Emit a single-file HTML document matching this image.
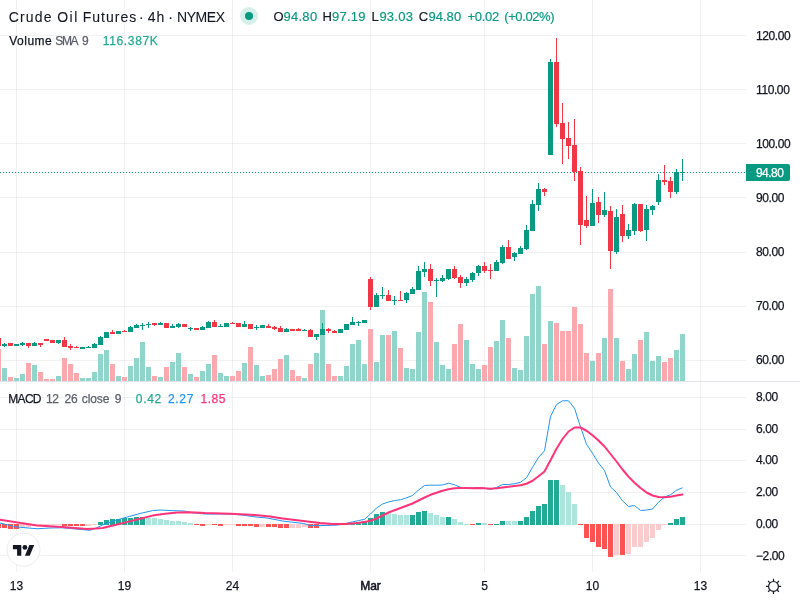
<!DOCTYPE html>
<html><head><meta charset="utf-8"><title>Crude Oil Futures</title>
<style>
html,body{margin:0;padding:0;background:#fff;}
body{width:800px;height:600px;position:relative;overflow:hidden;font-family:"Liberation Sans",sans-serif;}
#txt{position:absolute;left:0;top:0;width:800px;height:600px;will-change:transform;}
.t{position:absolute;white-space:nowrap;display:block;-webkit-text-stroke:0.25px currentColor;}
.t.c{text-align:center;color:#131722}
</style></head><body>
<svg width="800" height="600" viewBox="0 0 800 600" style="position:absolute;left:0;top:0">
<g fill="rgba(40,44,62,0.065)" shape-rendering="crispEdges">
<rect x="16" y="0" width="1" height="381"/>
<rect x="16" y="382" width="1" height="190"/>
<rect x="124" y="0" width="1" height="381"/>
<rect x="124" y="382" width="1" height="190"/>
<rect x="232" y="0" width="1" height="381"/>
<rect x="232" y="382" width="1" height="190"/>
<rect x="370" y="0" width="1" height="381"/>
<rect x="370" y="382" width="1" height="190"/>
<rect x="484" y="0" width="1" height="381"/>
<rect x="484" y="382" width="1" height="190"/>
<rect x="592" y="0" width="1" height="381"/>
<rect x="592" y="382" width="1" height="190"/>
<rect x="700" y="0" width="1" height="381"/>
<rect x="700" y="382" width="1" height="190"/>
<rect x="0" y="35" width="746" height="1"/>
<rect x="0" y="89" width="746" height="1"/>
<rect x="0" y="143" width="746" height="1"/>
<rect x="0" y="197" width="746" height="1"/>
<rect x="0" y="252" width="746" height="1"/>
<rect x="0" y="306" width="746" height="1"/>
<rect x="0" y="360" width="746" height="1"/>
<rect x="0" y="397" width="746" height="1"/>
<rect x="0" y="429" width="746" height="1"/>
<rect x="0" y="460" width="746" height="1"/>
<rect x="0" y="492" width="746" height="1"/>
<rect x="0" y="524" width="746" height="1"/>
<rect x="0" y="555" width="746" height="1"/>
</g>
<g shape-rendering="crispEdges">
<rect x="-4" y="349" width="5" height="32" fill="#fba8af"/>
<rect x="2" y="368" width="5" height="13" fill="#90d5c9"/>
<rect x="8" y="377" width="5" height="4" fill="#fba8af"/>
<rect x="14" y="378" width="5" height="3" fill="#90d5c9"/>
<rect x="20" y="374" width="5" height="7" fill="#90d5c9"/>
<rect x="26" y="363" width="5" height="18" fill="#fba8af"/>
<rect x="32" y="365" width="5" height="16" fill="#90d5c9"/>
<rect x="38" y="372" width="5" height="9" fill="#fba8af"/>
<rect x="44" y="379" width="5" height="2" fill="#fba8af"/>
<rect x="50" y="379" width="5" height="2" fill="#fba8af"/>
<rect x="56" y="376" width="5" height="5" fill="#90d5c9"/>
<rect x="62" y="358" width="5" height="23" fill="#fba8af"/>
<rect x="68" y="364" width="5" height="17" fill="#fba8af"/>
<rect x="74" y="373" width="5" height="8" fill="#fba8af"/>
<rect x="80" y="378" width="5" height="3" fill="#90d5c9"/>
<rect x="86" y="378" width="5" height="3" fill="#90d5c9"/>
<rect x="92" y="372" width="5" height="9" fill="#90d5c9"/>
<rect x="98" y="354" width="5" height="27" fill="#90d5c9"/>
<rect x="104" y="350" width="5" height="31" fill="#90d5c9"/>
<rect x="110" y="364" width="5" height="17" fill="#fba8af"/>
<rect x="116" y="376" width="5" height="5" fill="#90d5c9"/>
<rect x="122" y="377" width="5" height="4" fill="#fba8af"/>
<rect x="128" y="366" width="5" height="15" fill="#90d5c9"/>
<rect x="134" y="358" width="5" height="23" fill="#90d5c9"/>
<rect x="140" y="342" width="5" height="39" fill="#90d5c9"/>
<rect x="146" y="367" width="5" height="14" fill="#90d5c9"/>
<rect x="152" y="376" width="5" height="5" fill="#fba8af"/>
<rect x="158" y="377" width="5" height="4" fill="#90d5c9"/>
<rect x="164" y="367" width="5" height="14" fill="#fba8af"/>
<rect x="170" y="362" width="5" height="19" fill="#90d5c9"/>
<rect x="176" y="353" width="5" height="28" fill="#90d5c9"/>
<rect x="182" y="367" width="5" height="14" fill="#fba8af"/>
<rect x="188" y="374" width="5" height="7" fill="#90d5c9"/>
<rect x="194" y="377" width="5" height="4" fill="#fba8af"/>
<rect x="200" y="371" width="5" height="10" fill="#90d5c9"/>
<rect x="206" y="364" width="5" height="17" fill="#90d5c9"/>
<rect x="212" y="355" width="5" height="26" fill="#fba8af"/>
<rect x="218" y="373" width="5" height="8" fill="#90d5c9"/>
<rect x="224" y="376" width="5" height="5" fill="#90d5c9"/>
<rect x="230" y="376" width="5" height="5" fill="#fba8af"/>
<rect x="236" y="371" width="5" height="10" fill="#fba8af"/>
<rect x="242" y="363" width="5" height="18" fill="#90d5c9"/>
<rect x="248" y="347" width="5" height="34" fill="#fba8af"/>
<rect x="254" y="365" width="5" height="16" fill="#90d5c9"/>
<rect x="260" y="376" width="5" height="5" fill="#90d5c9"/>
<rect x="266" y="375" width="5" height="6" fill="#fba8af"/>
<rect x="272" y="369" width="5" height="12" fill="#fba8af"/>
<rect x="278" y="359" width="5" height="22" fill="#fba8af"/>
<rect x="284" y="355" width="5" height="26" fill="#90d5c9"/>
<rect x="290" y="370" width="5" height="11" fill="#fba8af"/>
<rect x="296" y="376" width="5" height="5" fill="#fba8af"/>
<rect x="302" y="378" width="5" height="3" fill="#90d5c9"/>
<rect x="308" y="364" width="5" height="17" fill="#fba8af"/>
<rect x="314" y="353" width="5" height="28" fill="#90d5c9"/>
<rect x="320" y="310" width="5" height="71" fill="#90d5c9"/>
<rect x="326" y="364" width="5" height="17" fill="#fba8af"/>
<rect x="332" y="376" width="5" height="5" fill="#fba8af"/>
<rect x="338" y="376" width="5" height="5" fill="#90d5c9"/>
<rect x="344" y="366" width="5" height="15" fill="#90d5c9"/>
<rect x="350" y="344" width="5" height="37" fill="#90d5c9"/>
<rect x="356" y="340" width="5" height="41" fill="#90d5c9"/>
<rect x="362" y="364" width="5" height="17" fill="#90d5c9"/>
<rect x="368" y="329" width="5" height="52" fill="#fba8af"/>
<rect x="374" y="362" width="5" height="19" fill="#90d5c9"/>
<rect x="380" y="335" width="5" height="46" fill="#90d5c9"/>
<rect x="386" y="335" width="5" height="46" fill="#fba8af"/>
<rect x="392" y="331" width="5" height="50" fill="#90d5c9"/>
<rect x="398" y="348" width="5" height="33" fill="#fba8af"/>
<rect x="404" y="368" width="5" height="13" fill="#90d5c9"/>
<rect x="410" y="369" width="5" height="12" fill="#90d5c9"/>
<rect x="416" y="332" width="5" height="49" fill="#90d5c9"/>
<rect x="422" y="292" width="5" height="89" fill="#90d5c9"/>
<rect x="428" y="302" width="5" height="79" fill="#fba8af"/>
<rect x="434" y="342" width="5" height="39" fill="#90d5c9"/>
<rect x="440" y="365" width="5" height="16" fill="#90d5c9"/>
<rect x="446" y="369" width="5" height="12" fill="#90d5c9"/>
<rect x="452" y="344" width="5" height="37" fill="#fba8af"/>
<rect x="458" y="324" width="5" height="57" fill="#fba8af"/>
<rect x="464" y="340" width="5" height="41" fill="#90d5c9"/>
<rect x="470" y="364" width="5" height="17" fill="#90d5c9"/>
<rect x="476" y="369" width="5" height="12" fill="#90d5c9"/>
<rect x="482" y="365" width="5" height="16" fill="#fba8af"/>
<rect x="488" y="347" width="5" height="34" fill="#fba8af"/>
<rect x="494" y="341" width="5" height="40" fill="#90d5c9"/>
<rect x="500" y="320" width="5" height="61" fill="#90d5c9"/>
<rect x="506" y="338" width="5" height="43" fill="#fba8af"/>
<rect x="512" y="368" width="5" height="13" fill="#90d5c9"/>
<rect x="518" y="370" width="5" height="11" fill="#90d5c9"/>
<rect x="524" y="336" width="5" height="45" fill="#90d5c9"/>
<rect x="530" y="294" width="5" height="87" fill="#90d5c9"/>
<rect x="536" y="286" width="5" height="95" fill="#90d5c9"/>
<rect x="542" y="344" width="5" height="37" fill="#fba8af"/>
<rect x="548" y="321" width="5" height="60" fill="#90d5c9"/>
<rect x="554" y="323" width="5" height="58" fill="#fba8af"/>
<rect x="560" y="331" width="5" height="50" fill="#fba8af"/>
<rect x="566" y="331" width="5" height="50" fill="#fba8af"/>
<rect x="572" y="307" width="5" height="74" fill="#fba8af"/>
<rect x="578" y="324" width="5" height="57" fill="#fba8af"/>
<rect x="584" y="353" width="5" height="28" fill="#fba8af"/>
<rect x="590" y="361" width="5" height="20" fill="#90d5c9"/>
<rect x="596" y="353" width="5" height="28" fill="#fba8af"/>
<rect x="602" y="338" width="5" height="43" fill="#90d5c9"/>
<rect x="608" y="289" width="5" height="92" fill="#fba8af"/>
<rect x="614" y="338" width="5" height="43" fill="#90d5c9"/>
<rect x="620" y="361" width="5" height="20" fill="#fba8af"/>
<rect x="626" y="369" width="5" height="12" fill="#90d5c9"/>
<rect x="632" y="354" width="5" height="27" fill="#90d5c9"/>
<rect x="638" y="340" width="5" height="41" fill="#fba8af"/>
<rect x="644" y="332" width="5" height="49" fill="#90d5c9"/>
<rect x="650" y="361" width="5" height="20" fill="#90d5c9"/>
<rect x="656" y="356" width="5" height="25" fill="#90d5c9"/>
<rect x="662" y="362" width="5" height="19" fill="#fba8af"/>
<rect x="668" y="358" width="5" height="23" fill="#fba8af"/>
<rect x="674" y="350" width="5" height="31" fill="#90d5c9"/>
<rect x="680" y="334" width="5" height="47" fill="#90d5c9"/>
</g>
<g fill="#089981" shape-rendering="crispEdges">
<path d="M0 172h1v1h-1zM3 172h1v1h-1zM6 172h1v1h-1zM9 172h1v1h-1zM12 172h1v1h-1zM15 172h1v1h-1zM18 172h1v1h-1zM21 172h1v1h-1zM24 172h1v1h-1zM27 172h1v1h-1zM30 172h1v1h-1zM33 172h1v1h-1zM36 172h1v1h-1zM39 172h1v1h-1zM42 172h1v1h-1zM45 172h1v1h-1zM48 172h1v1h-1zM51 172h1v1h-1zM54 172h1v1h-1zM57 172h1v1h-1zM60 172h1v1h-1zM63 172h1v1h-1zM66 172h1v1h-1zM69 172h1v1h-1zM72 172h1v1h-1zM75 172h1v1h-1zM78 172h1v1h-1zM81 172h1v1h-1zM84 172h1v1h-1zM87 172h1v1h-1zM90 172h1v1h-1zM93 172h1v1h-1zM96 172h1v1h-1zM99 172h1v1h-1zM102 172h1v1h-1zM105 172h1v1h-1zM108 172h1v1h-1zM111 172h1v1h-1zM114 172h1v1h-1zM117 172h1v1h-1zM120 172h1v1h-1zM123 172h1v1h-1zM126 172h1v1h-1zM129 172h1v1h-1zM132 172h1v1h-1zM135 172h1v1h-1zM138 172h1v1h-1zM141 172h1v1h-1zM144 172h1v1h-1zM147 172h1v1h-1zM150 172h1v1h-1zM153 172h1v1h-1zM156 172h1v1h-1zM159 172h1v1h-1zM162 172h1v1h-1zM165 172h1v1h-1zM168 172h1v1h-1zM171 172h1v1h-1zM174 172h1v1h-1zM177 172h1v1h-1zM180 172h1v1h-1zM183 172h1v1h-1zM186 172h1v1h-1zM189 172h1v1h-1zM192 172h1v1h-1zM195 172h1v1h-1zM198 172h1v1h-1zM201 172h1v1h-1zM204 172h1v1h-1zM207 172h1v1h-1zM210 172h1v1h-1zM213 172h1v1h-1zM216 172h1v1h-1zM219 172h1v1h-1zM222 172h1v1h-1zM225 172h1v1h-1zM228 172h1v1h-1zM231 172h1v1h-1zM234 172h1v1h-1zM237 172h1v1h-1zM240 172h1v1h-1zM243 172h1v1h-1zM246 172h1v1h-1zM249 172h1v1h-1zM252 172h1v1h-1zM255 172h1v1h-1zM258 172h1v1h-1zM261 172h1v1h-1zM264 172h1v1h-1zM267 172h1v1h-1zM270 172h1v1h-1zM273 172h1v1h-1zM276 172h1v1h-1zM279 172h1v1h-1zM282 172h1v1h-1zM285 172h1v1h-1zM288 172h1v1h-1zM291 172h1v1h-1zM294 172h1v1h-1zM297 172h1v1h-1zM300 172h1v1h-1zM303 172h1v1h-1zM306 172h1v1h-1zM309 172h1v1h-1zM312 172h1v1h-1zM315 172h1v1h-1zM318 172h1v1h-1zM321 172h1v1h-1zM324 172h1v1h-1zM327 172h1v1h-1zM330 172h1v1h-1zM333 172h1v1h-1zM336 172h1v1h-1zM339 172h1v1h-1zM342 172h1v1h-1zM345 172h1v1h-1zM348 172h1v1h-1zM351 172h1v1h-1zM354 172h1v1h-1zM357 172h1v1h-1zM360 172h1v1h-1zM363 172h1v1h-1zM366 172h1v1h-1zM369 172h1v1h-1zM372 172h1v1h-1zM375 172h1v1h-1zM378 172h1v1h-1zM381 172h1v1h-1zM384 172h1v1h-1zM387 172h1v1h-1zM390 172h1v1h-1zM393 172h1v1h-1zM396 172h1v1h-1zM399 172h1v1h-1zM402 172h1v1h-1zM405 172h1v1h-1zM408 172h1v1h-1zM411 172h1v1h-1zM414 172h1v1h-1zM417 172h1v1h-1zM420 172h1v1h-1zM423 172h1v1h-1zM426 172h1v1h-1zM429 172h1v1h-1zM432 172h1v1h-1zM435 172h1v1h-1zM438 172h1v1h-1zM441 172h1v1h-1zM444 172h1v1h-1zM447 172h1v1h-1zM450 172h1v1h-1zM453 172h1v1h-1zM456 172h1v1h-1zM459 172h1v1h-1zM462 172h1v1h-1zM465 172h1v1h-1zM468 172h1v1h-1zM471 172h1v1h-1zM474 172h1v1h-1zM477 172h1v1h-1zM480 172h1v1h-1zM483 172h1v1h-1zM486 172h1v1h-1zM489 172h1v1h-1zM492 172h1v1h-1zM495 172h1v1h-1zM498 172h1v1h-1zM501 172h1v1h-1zM504 172h1v1h-1zM507 172h1v1h-1zM510 172h1v1h-1zM513 172h1v1h-1zM516 172h1v1h-1zM519 172h1v1h-1zM522 172h1v1h-1zM525 172h1v1h-1zM528 172h1v1h-1zM531 172h1v1h-1zM534 172h1v1h-1zM537 172h1v1h-1zM540 172h1v1h-1zM543 172h1v1h-1zM546 172h1v1h-1zM549 172h1v1h-1zM552 172h1v1h-1zM555 172h1v1h-1zM558 172h1v1h-1zM561 172h1v1h-1zM564 172h1v1h-1zM567 172h1v1h-1zM570 172h1v1h-1zM573 172h1v1h-1zM576 172h1v1h-1zM579 172h1v1h-1zM582 172h1v1h-1zM585 172h1v1h-1zM588 172h1v1h-1zM591 172h1v1h-1zM594 172h1v1h-1zM597 172h1v1h-1zM600 172h1v1h-1zM603 172h1v1h-1zM606 172h1v1h-1zM609 172h1v1h-1zM612 172h1v1h-1zM615 172h1v1h-1zM618 172h1v1h-1zM621 172h1v1h-1zM624 172h1v1h-1zM627 172h1v1h-1zM630 172h1v1h-1zM633 172h1v1h-1zM636 172h1v1h-1zM639 172h1v1h-1zM642 172h1v1h-1zM645 172h1v1h-1zM648 172h1v1h-1zM651 172h1v1h-1zM654 172h1v1h-1zM657 172h1v1h-1zM660 172h1v1h-1zM663 172h1v1h-1zM666 172h1v1h-1zM669 172h1v1h-1zM672 172h1v1h-1zM675 172h1v1h-1zM678 172h1v1h-1zM681 172h1v1h-1zM684 172h1v1h-1zM687 172h1v1h-1zM690 172h1v1h-1zM693 172h1v1h-1zM696 172h1v1h-1zM699 172h1v1h-1zM702 172h1v1h-1zM705 172h1v1h-1zM708 172h1v1h-1zM711 172h1v1h-1zM714 172h1v1h-1zM717 172h1v1h-1zM720 172h1v1h-1zM723 172h1v1h-1zM726 172h1v1h-1zM729 172h1v1h-1zM732 172h1v1h-1zM735 172h1v1h-1zM738 172h1v1h-1zM741 172h1v1h-1zM744 172h1v1h-1z"/>
</g>
<g shape-rendering="crispEdges">
<rect x="-2" y="338" width="1" height="8" fill="#f23645"/>
<rect x="-4" y="338" width="5" height="8" fill="#f23645"/>
<rect x="4" y="343" width="1" height="4" fill="#089981"/>
<rect x="2" y="344" width="5" height="2" fill="#089981"/>
<rect x="10" y="343" width="1" height="3" fill="#f23645"/>
<rect x="8" y="343" width="5" height="3" fill="#f23645"/>
<rect x="16" y="344" width="1" height="2" fill="#089981"/>
<rect x="14" y="344" width="5" height="2" fill="#089981"/>
<rect x="22" y="342" width="1" height="4" fill="#089981"/>
<rect x="20" y="343" width="5" height="2" fill="#089981"/>
<rect x="28" y="343" width="1" height="5" fill="#f23645"/>
<rect x="26" y="343" width="5" height="3" fill="#f23645"/>
<rect x="34" y="342" width="1" height="4" fill="#089981"/>
<rect x="32" y="343" width="5" height="3" fill="#089981"/>
<rect x="40" y="343" width="1" height="4" fill="#f23645"/>
<rect x="38" y="343" width="5" height="2" fill="#f23645"/>
<rect x="46" y="339" width="1" height="2" fill="#f23645"/>
<rect x="44" y="339" width="5" height="2" fill="#f23645"/>
<rect x="52" y="340" width="1" height="3" fill="#f23645"/>
<rect x="50" y="340" width="5" height="3" fill="#f23645"/>
<rect x="58" y="340" width="1" height="4" fill="#089981"/>
<rect x="56" y="340" width="5" height="3" fill="#089981"/>
<rect x="64" y="337" width="1" height="10" fill="#f23645"/>
<rect x="62" y="340" width="5" height="7" fill="#f23645"/>
<rect x="70" y="344" width="1" height="6" fill="#f23645"/>
<rect x="68" y="346" width="5" height="2" fill="#f23645"/>
<rect x="76" y="346" width="1" height="2" fill="#f23645"/>
<rect x="74" y="347" width="5" height="1" fill="#f23645"/>
<rect x="82" y="347" width="1" height="2" fill="#089981"/>
<rect x="80" y="347" width="5" height="2" fill="#089981"/>
<rect x="88" y="346" width="1" height="2" fill="#089981"/>
<rect x="86" y="347" width="5" height="1" fill="#089981"/>
<rect x="94" y="343" width="1" height="5" fill="#089981"/>
<rect x="92" y="344" width="5" height="4" fill="#089981"/>
<rect x="100" y="336" width="1" height="9" fill="#089981"/>
<rect x="98" y="337" width="5" height="8" fill="#089981"/>
<rect x="106" y="332" width="1" height="6" fill="#089981"/>
<rect x="104" y="332" width="5" height="6" fill="#089981"/>
<rect x="112" y="330" width="1" height="4" fill="#f23645"/>
<rect x="110" y="332" width="5" height="2" fill="#f23645"/>
<rect x="118" y="331" width="1" height="3" fill="#089981"/>
<rect x="116" y="331" width="5" height="3" fill="#089981"/>
<rect x="124" y="330" width="1" height="2" fill="#f23645"/>
<rect x="122" y="331" width="5" height="1" fill="#f23645"/>
<rect x="130" y="326" width="1" height="6" fill="#089981"/>
<rect x="128" y="327" width="5" height="5" fill="#089981"/>
<rect x="136" y="324" width="1" height="4" fill="#089981"/>
<rect x="134" y="325" width="5" height="3" fill="#089981"/>
<rect x="142" y="323" width="1" height="7" fill="#089981"/>
<rect x="140" y="325" width="5" height="1" fill="#089981"/>
<rect x="148" y="322" width="1" height="6" fill="#089981"/>
<rect x="146" y="324" width="5" height="1" fill="#089981"/>
<rect x="154" y="323" width="1" height="3" fill="#f23645"/>
<rect x="152" y="323" width="5" height="2" fill="#f23645"/>
<rect x="160" y="322" width="1" height="3" fill="#089981"/>
<rect x="158" y="323" width="5" height="2" fill="#089981"/>
<rect x="166" y="323" width="1" height="5" fill="#f23645"/>
<rect x="164" y="323" width="5" height="5" fill="#f23645"/>
<rect x="172" y="324" width="1" height="4" fill="#089981"/>
<rect x="170" y="326" width="5" height="2" fill="#089981"/>
<rect x="178" y="323" width="1" height="5" fill="#089981"/>
<rect x="176" y="324" width="5" height="3" fill="#089981"/>
<rect x="184" y="324" width="1" height="3" fill="#f23645"/>
<rect x="182" y="324" width="5" height="3" fill="#f23645"/>
<rect x="190" y="327" width="1" height="4" fill="#089981"/>
<rect x="188" y="328" width="5" height="1" fill="#089981"/>
<rect x="196" y="328" width="1" height="2" fill="#f23645"/>
<rect x="194" y="328" width="5" height="2" fill="#f23645"/>
<rect x="202" y="326" width="1" height="4" fill="#089981"/>
<rect x="200" y="327" width="5" height="3" fill="#089981"/>
<rect x="208" y="321" width="1" height="7" fill="#089981"/>
<rect x="206" y="322" width="5" height="6" fill="#089981"/>
<rect x="214" y="320" width="1" height="7" fill="#f23645"/>
<rect x="212" y="322" width="5" height="5" fill="#f23645"/>
<rect x="220" y="324" width="1" height="3" fill="#089981"/>
<rect x="218" y="326" width="5" height="1" fill="#089981"/>
<rect x="226" y="323" width="1" height="4" fill="#089981"/>
<rect x="224" y="323" width="5" height="4" fill="#089981"/>
<rect x="232" y="322" width="1" height="2" fill="#f23645"/>
<rect x="230" y="323" width="5" height="1" fill="#f23645"/>
<rect x="238" y="323" width="1" height="4" fill="#f23645"/>
<rect x="236" y="323" width="5" height="4" fill="#f23645"/>
<rect x="244" y="321" width="1" height="6" fill="#089981"/>
<rect x="242" y="324" width="5" height="3" fill="#089981"/>
<rect x="250" y="324" width="1" height="5" fill="#f23645"/>
<rect x="248" y="324" width="5" height="5" fill="#f23645"/>
<rect x="256" y="325" width="1" height="5" fill="#089981"/>
<rect x="254" y="327" width="5" height="1" fill="#089981"/>
<rect x="262" y="325" width="1" height="3" fill="#089981"/>
<rect x="260" y="325" width="5" height="3" fill="#089981"/>
<rect x="268" y="324" width="1" height="4" fill="#f23645"/>
<rect x="266" y="326" width="5" height="2" fill="#f23645"/>
<rect x="274" y="326" width="1" height="4" fill="#f23645"/>
<rect x="272" y="327" width="5" height="2" fill="#f23645"/>
<rect x="280" y="326" width="1" height="6" fill="#f23645"/>
<rect x="278" y="328" width="5" height="4" fill="#f23645"/>
<rect x="286" y="328" width="1" height="4" fill="#089981"/>
<rect x="284" y="329" width="5" height="3" fill="#089981"/>
<rect x="292" y="329" width="1" height="2" fill="#f23645"/>
<rect x="290" y="329" width="5" height="2" fill="#f23645"/>
<rect x="298" y="328" width="1" height="3" fill="#f23645"/>
<rect x="296" y="329" width="5" height="2" fill="#f23645"/>
<rect x="304" y="329" width="1" height="2" fill="#089981"/>
<rect x="302" y="330" width="5" height="1" fill="#089981"/>
<rect x="310" y="329" width="1" height="8" fill="#f23645"/>
<rect x="308" y="330" width="5" height="7" fill="#f23645"/>
<rect x="316" y="334" width="1" height="6" fill="#089981"/>
<rect x="314" y="334" width="5" height="3" fill="#089981"/>
<rect x="322" y="323" width="1" height="12" fill="#089981"/>
<rect x="320" y="329" width="5" height="6" fill="#089981"/>
<rect x="328" y="328" width="1" height="5" fill="#f23645"/>
<rect x="326" y="329" width="5" height="2" fill="#f23645"/>
<rect x="334" y="330" width="1" height="3" fill="#f23645"/>
<rect x="332" y="331" width="5" height="2" fill="#f23645"/>
<rect x="340" y="329" width="1" height="4" fill="#089981"/>
<rect x="338" y="329" width="5" height="4" fill="#089981"/>
<rect x="346" y="324" width="1" height="6" fill="#089981"/>
<rect x="344" y="324" width="5" height="6" fill="#089981"/>
<rect x="352" y="317" width="1" height="8" fill="#089981"/>
<rect x="350" y="322" width="5" height="3" fill="#089981"/>
<rect x="358" y="321" width="1" height="5" fill="#089981"/>
<rect x="356" y="322" width="5" height="1" fill="#089981"/>
<rect x="364" y="320" width="1" height="3" fill="#089981"/>
<rect x="362" y="320" width="5" height="3" fill="#089981"/>
<rect x="370" y="277" width="1" height="33" fill="#f23645"/>
<rect x="368" y="279" width="5" height="28" fill="#f23645"/>
<rect x="376" y="293" width="1" height="14" fill="#089981"/>
<rect x="374" y="295" width="5" height="12" fill="#089981"/>
<rect x="382" y="287" width="1" height="12" fill="#089981"/>
<rect x="380" y="295" width="5" height="1" fill="#089981"/>
<rect x="388" y="290" width="1" height="11" fill="#f23645"/>
<rect x="386" y="295" width="5" height="6" fill="#f23645"/>
<rect x="394" y="296" width="1" height="9" fill="#089981"/>
<rect x="392" y="300" width="5" height="1" fill="#089981"/>
<rect x="400" y="291" width="1" height="10" fill="#f23645"/>
<rect x="398" y="300" width="5" height="1" fill="#f23645"/>
<rect x="406" y="292" width="1" height="11" fill="#089981"/>
<rect x="404" y="293" width="5" height="7" fill="#089981"/>
<rect x="412" y="287" width="1" height="7" fill="#089981"/>
<rect x="410" y="289" width="5" height="5" fill="#089981"/>
<rect x="418" y="266" width="1" height="24" fill="#089981"/>
<rect x="416" y="271" width="5" height="19" fill="#089981"/>
<rect x="424" y="262" width="1" height="15" fill="#089981"/>
<rect x="422" y="269" width="5" height="3" fill="#089981"/>
<rect x="430" y="264" width="1" height="22" fill="#f23645"/>
<rect x="428" y="269" width="5" height="12" fill="#f23645"/>
<rect x="436" y="278" width="1" height="19" fill="#089981"/>
<rect x="434" y="280" width="5" height="1" fill="#089981"/>
<rect x="442" y="275" width="1" height="7" fill="#089981"/>
<rect x="440" y="278" width="5" height="3" fill="#089981"/>
<rect x="448" y="269" width="1" height="11" fill="#089981"/>
<rect x="446" y="269" width="5" height="10" fill="#089981"/>
<rect x="454" y="266" width="1" height="13" fill="#f23645"/>
<rect x="452" y="269" width="5" height="9" fill="#f23645"/>
<rect x="460" y="275" width="1" height="13" fill="#f23645"/>
<rect x="458" y="277" width="5" height="6" fill="#f23645"/>
<rect x="466" y="277" width="1" height="9" fill="#089981"/>
<rect x="464" y="279" width="5" height="4" fill="#089981"/>
<rect x="472" y="272" width="1" height="10" fill="#089981"/>
<rect x="470" y="273" width="5" height="7" fill="#089981"/>
<rect x="478" y="265" width="1" height="11" fill="#089981"/>
<rect x="476" y="266" width="5" height="7" fill="#089981"/>
<rect x="484" y="262" width="1" height="11" fill="#f23645"/>
<rect x="482" y="266" width="5" height="5" fill="#f23645"/>
<rect x="490" y="264" width="1" height="15" fill="#f23645"/>
<rect x="488" y="270" width="5" height="1" fill="#f23645"/>
<rect x="496" y="260" width="1" height="11" fill="#089981"/>
<rect x="494" y="262" width="5" height="9" fill="#089981"/>
<rect x="502" y="245" width="1" height="19" fill="#089981"/>
<rect x="500" y="247" width="5" height="16" fill="#089981"/>
<rect x="508" y="240" width="1" height="19" fill="#f23645"/>
<rect x="506" y="247" width="5" height="12" fill="#f23645"/>
<rect x="514" y="252" width="1" height="9" fill="#089981"/>
<rect x="512" y="253" width="5" height="4" fill="#089981"/>
<rect x="520" y="246" width="1" height="8" fill="#089981"/>
<rect x="518" y="248" width="5" height="6" fill="#089981"/>
<rect x="526" y="225" width="1" height="25" fill="#089981"/>
<rect x="524" y="230" width="5" height="19" fill="#089981"/>
<rect x="532" y="200" width="1" height="31" fill="#089981"/>
<rect x="530" y="204" width="5" height="27" fill="#089981"/>
<rect x="538" y="183" width="1" height="28" fill="#089981"/>
<rect x="536" y="189" width="5" height="16" fill="#089981"/>
<rect x="544" y="188" width="1" height="8" fill="#f23645"/>
<rect x="542" y="189" width="5" height="3" fill="#f23645"/>
<rect x="550" y="59" width="1" height="96" fill="#089981"/>
<rect x="548" y="62" width="5" height="93" fill="#089981"/>
<rect x="556" y="38" width="1" height="89" fill="#f23645"/>
<rect x="554" y="62" width="5" height="62" fill="#f23645"/>
<rect x="562" y="103" width="1" height="61" fill="#f23645"/>
<rect x="560" y="123" width="5" height="16" fill="#f23645"/>
<rect x="568" y="122" width="1" height="37" fill="#f23645"/>
<rect x="566" y="138" width="5" height="8" fill="#f23645"/>
<rect x="574" y="119" width="1" height="62" fill="#f23645"/>
<rect x="572" y="145" width="5" height="27" fill="#f23645"/>
<rect x="580" y="167" width="1" height="78" fill="#f23645"/>
<rect x="578" y="171" width="5" height="54" fill="#f23645"/>
<rect x="586" y="196" width="1" height="32" fill="#f23645"/>
<rect x="584" y="220" width="5" height="6" fill="#f23645"/>
<rect x="592" y="189" width="1" height="37" fill="#089981"/>
<rect x="590" y="203" width="5" height="23" fill="#089981"/>
<rect x="598" y="197" width="1" height="26" fill="#f23645"/>
<rect x="596" y="202" width="5" height="13" fill="#f23645"/>
<rect x="604" y="192" width="1" height="25" fill="#089981"/>
<rect x="602" y="210" width="5" height="5" fill="#089981"/>
<rect x="610" y="206" width="1" height="63" fill="#f23645"/>
<rect x="608" y="211" width="5" height="40" fill="#f23645"/>
<rect x="616" y="209" width="1" height="45" fill="#089981"/>
<rect x="614" y="217" width="5" height="35" fill="#089981"/>
<rect x="622" y="205" width="1" height="37" fill="#f23645"/>
<rect x="620" y="214" width="5" height="22" fill="#f23645"/>
<rect x="628" y="224" width="1" height="15" fill="#089981"/>
<rect x="626" y="230" width="5" height="6" fill="#089981"/>
<rect x="634" y="203" width="1" height="32" fill="#089981"/>
<rect x="632" y="204" width="5" height="27" fill="#089981"/>
<rect x="640" y="204" width="1" height="28" fill="#f23645"/>
<rect x="638" y="204" width="5" height="27" fill="#f23645"/>
<rect x="646" y="205" width="1" height="36" fill="#089981"/>
<rect x="644" y="209" width="5" height="21" fill="#089981"/>
<rect x="652" y="205" width="1" height="10" fill="#089981"/>
<rect x="650" y="206" width="5" height="4" fill="#089981"/>
<rect x="658" y="174" width="1" height="31" fill="#089981"/>
<rect x="656" y="180" width="5" height="22" fill="#089981"/>
<rect x="664" y="165" width="1" height="20" fill="#f23645"/>
<rect x="662" y="180" width="5" height="2" fill="#f23645"/>
<rect x="670" y="177" width="1" height="21" fill="#f23645"/>
<rect x="668" y="181" width="5" height="11" fill="#f23645"/>
<rect x="676" y="169" width="1" height="25" fill="#089981"/>
<rect x="674" y="172" width="5" height="20" fill="#089981"/>
<rect x="682" y="159" width="1" height="22" fill="#089981"/>
<rect x="680" y="172" width="5" height="1" fill="#089981"/>
</g>
<rect x="0" y="381" width="800" height="1" fill="#e0e3eb" shape-rendering="crispEdges"/>
<g shape-rendering="crispEdges">
<rect x="-4" y="524" width="5" height="4" fill="#ff5252"/>
<rect x="2" y="524" width="5" height="4" fill="#ff5252"/>
<rect x="8" y="524" width="5" height="5" fill="#ff5252"/>
<rect x="14" y="524" width="5" height="5" fill="#ff5252"/>
<rect x="20" y="524" width="5" height="3" fill="#fccbcd"/>
<rect x="26" y="524" width="5" height="3" fill="#fccbcd"/>
<rect x="32" y="524" width="5" height="2" fill="#fccbcd"/>
<rect x="38" y="524" width="5" height="2" fill="#fccbcd"/>
<rect x="44" y="524" width="5" height="2" fill="#fccbcd"/>
<rect x="50" y="524" width="5" height="1" fill="#fccbcd"/>
<rect x="56" y="524" width="5" height="1" fill="#fccbcd"/>
<rect x="62" y="524" width="5" height="2" fill="#ff5252"/>
<rect x="68" y="524" width="5" height="2" fill="#ff5252"/>
<rect x="74" y="524" width="5" height="2" fill="#ff5252"/>
<rect x="80" y="524" width="5" height="2" fill="#ff5252"/>
<rect x="86" y="524" width="5" height="2" fill="#fccbcd"/>
<rect x="92" y="524" width="5" height="1" fill="#fccbcd"/>
<rect x="98" y="522" width="5" height="3" fill="#22ab94"/>
<rect x="104" y="520" width="5" height="5" fill="#22ab94"/>
<rect x="110" y="519" width="5" height="6" fill="#22ab94"/>
<rect x="116" y="519" width="5" height="6" fill="#22ab94"/>
<rect x="122" y="518" width="5" height="7" fill="#22ab94"/>
<rect x="128" y="518" width="5" height="7" fill="#22ab94"/>
<rect x="134" y="517" width="5" height="8" fill="#22ab94"/>
<rect x="140" y="517" width="5" height="8" fill="#22ab94"/>
<rect x="146" y="518" width="5" height="7" fill="#ace5dc"/>
<rect x="152" y="518" width="5" height="7" fill="#ace5dc"/>
<rect x="158" y="519" width="5" height="6" fill="#ace5dc"/>
<rect x="164" y="520" width="5" height="5" fill="#ace5dc"/>
<rect x="170" y="521" width="5" height="4" fill="#ace5dc"/>
<rect x="176" y="521" width="5" height="4" fill="#ace5dc"/>
<rect x="182" y="522" width="5" height="3" fill="#ace5dc"/>
<rect x="188" y="523" width="5" height="2" fill="#ace5dc"/>
<rect x="194" y="524" width="5" height="1" fill="#ff5252"/>
<rect x="200" y="524" width="5" height="2" fill="#ff5252"/>
<rect x="206" y="524" width="5" height="1" fill="#fccbcd"/>
<rect x="212" y="524" width="5" height="1" fill="#ff5252"/>
<rect x="218" y="524" width="5" height="2" fill="#ff5252"/>
<rect x="224" y="524" width="5" height="1" fill="#fccbcd"/>
<rect x="230" y="524" width="5" height="1" fill="#fccbcd"/>
<rect x="236" y="524" width="5" height="2" fill="#ff5252"/>
<rect x="242" y="524" width="5" height="2" fill="#ff5252"/>
<rect x="248" y="524" width="5" height="2" fill="#ff5252"/>
<rect x="254" y="524" width="5" height="3" fill="#ff5252"/>
<rect x="260" y="524" width="5" height="3" fill="#fccbcd"/>
<rect x="266" y="524" width="5" height="3" fill="#ff5252"/>
<rect x="272" y="524" width="5" height="3" fill="#ff5252"/>
<rect x="278" y="524" width="5" height="4" fill="#ff5252"/>
<rect x="284" y="524" width="5" height="4" fill="#ff5252"/>
<rect x="290" y="524" width="5" height="4" fill="#fccbcd"/>
<rect x="296" y="524" width="5" height="4" fill="#fccbcd"/>
<rect x="302" y="524" width="5" height="3" fill="#fccbcd"/>
<rect x="308" y="524" width="5" height="4" fill="#ff5252"/>
<rect x="314" y="524" width="5" height="4" fill="#ff5252"/>
<rect x="320" y="524" width="5" height="2" fill="#fccbcd"/>
<rect x="326" y="524" width="5" height="2" fill="#fccbcd"/>
<rect x="332" y="524" width="5" height="2" fill="#fccbcd"/>
<rect x="338" y="524" width="5" height="1" fill="#fccbcd"/>
<rect x="344" y="524" width="5" height="1" fill="#22ab94"/>
<rect x="350" y="523" width="5" height="2" fill="#22ab94"/>
<rect x="356" y="522" width="5" height="3" fill="#22ab94"/>
<rect x="362" y="521" width="5" height="4" fill="#22ab94"/>
<rect x="368" y="518" width="5" height="7" fill="#22ab94"/>
<rect x="374" y="514" width="5" height="11" fill="#22ab94"/>
<rect x="380" y="512" width="5" height="13" fill="#22ab94"/>
<rect x="386" y="513" width="5" height="12" fill="#ace5dc"/>
<rect x="392" y="514" width="5" height="11" fill="#ace5dc"/>
<rect x="398" y="515" width="5" height="10" fill="#ace5dc"/>
<rect x="404" y="515" width="5" height="10" fill="#ace5dc"/>
<rect x="410" y="515" width="5" height="10" fill="#22ab94"/>
<rect x="416" y="512" width="5" height="13" fill="#22ab94"/>
<rect x="422" y="511" width="5" height="14" fill="#22ab94"/>
<rect x="428" y="513" width="5" height="12" fill="#ace5dc"/>
<rect x="434" y="515" width="5" height="10" fill="#ace5dc"/>
<rect x="440" y="517" width="5" height="8" fill="#ace5dc"/>
<rect x="446" y="517" width="5" height="8" fill="#22ab94"/>
<rect x="452" y="519" width="5" height="6" fill="#ace5dc"/>
<rect x="458" y="522" width="5" height="3" fill="#ace5dc"/>
<rect x="464" y="524" width="5" height="1" fill="#ace5dc"/>
<rect x="470" y="524" width="5" height="1" fill="#ff5252"/>
<rect x="476" y="523" width="5" height="2" fill="#22ab94"/>
<rect x="482" y="523" width="5" height="2" fill="#ace5dc"/>
<rect x="488" y="524" width="5" height="1" fill="#ff5252"/>
<rect x="494" y="524" width="5" height="1" fill="#22ab94"/>
<rect x="500" y="521" width="5" height="4" fill="#22ab94"/>
<rect x="506" y="521" width="5" height="4" fill="#ace5dc"/>
<rect x="512" y="521" width="5" height="4" fill="#ace5dc"/>
<rect x="518" y="521" width="5" height="4" fill="#22ab94"/>
<rect x="524" y="517" width="5" height="8" fill="#22ab94"/>
<rect x="530" y="511" width="5" height="14" fill="#22ab94"/>
<rect x="536" y="506" width="5" height="19" fill="#22ab94"/>
<rect x="542" y="504" width="5" height="21" fill="#22ab94"/>
<rect x="548" y="480" width="5" height="45" fill="#22ab94"/>
<rect x="554" y="480" width="5" height="45" fill="#22ab94"/>
<rect x="560" y="485" width="5" height="40" fill="#ace5dc"/>
<rect x="566" y="492" width="5" height="33" fill="#ace5dc"/>
<rect x="572" y="504" width="5" height="21" fill="#ace5dc"/>
<rect x="578" y="524" width="5" height="1" fill="#ff5252"/>
<rect x="584" y="524" width="5" height="14" fill="#ff5252"/>
<rect x="590" y="524" width="5" height="18" fill="#ff5252"/>
<rect x="596" y="524" width="5" height="23" fill="#ff5252"/>
<rect x="602" y="524" width="5" height="25" fill="#ff5252"/>
<rect x="608" y="524" width="5" height="33" fill="#ff5252"/>
<rect x="614" y="524" width="5" height="31" fill="#fccbcd"/>
<rect x="620" y="524" width="5" height="31" fill="#ff5252"/>
<rect x="626" y="524" width="5" height="30" fill="#fccbcd"/>
<rect x="632" y="524" width="5" height="23" fill="#fccbcd"/>
<rect x="638" y="524" width="5" height="23" fill="#fccbcd"/>
<rect x="644" y="524" width="5" height="18" fill="#fccbcd"/>
<rect x="650" y="524" width="5" height="14" fill="#fccbcd"/>
<rect x="656" y="524" width="5" height="6" fill="#fccbcd"/>
<rect x="662" y="524" width="5" height="1" fill="#fccbcd"/>
<rect x="668" y="523" width="5" height="2" fill="#22ab94"/>
<rect x="674" y="519" width="5" height="6" fill="#22ab94"/>
<rect x="680" y="517" width="5" height="8" fill="#22ab94"/>
</g>
<path d="M-8 521.5 L0 523 L16 526.9 L37 528.75 L50 528 L62 527.75 L87 530 L90 530.25 L96 528 L102.5 525 L115 520.6 L127.5 516.9 L140 513.5 L152.5 510.6 L160 510 L171 510.6 L184 511 L192.5 512.75 L205 514 L217 514 L230 514 L242 515 L255 516.9 L267 518 L275 519.5 L282.5 521 L295 522.5 L303.75 523.5 L310 525.6 L320 525.6 L332.5 525.25 L340 524.75 L345 523.75 L352.5 521.9 L358.5 520.6 L364.5 519.25 L370.5 514 L376.5 508 L382.5 504 L388.5 502 L394.5 500.5 L400.5 499.75 L406.5 497.8 L412.5 495.5 L418.5 490 L424.5 485.5 L430.5 485.2 L436.5 485.2 L442.5 485 L448.5 483.25 L454.5 484.75 L460.5 487.3 L466.5 488 L472.5 488 L478.5 487.5 L484.5 488.25 L490.5 489.3 L496.5 487.5 L502.5 484.5 L508.5 484.5 L514.5 483.75 L520.5 482.25 L526.5 477.75 L532.5 467.25 L538.5 457.5 L544.5 450.75 L550.5 416.5 L556.5 404.5 L562.5 400.75 L568.5 400.75 L574.5 408.25 L580.5 427 L586.5 444.25 L592.5 453.25 L598.5 463 L604.5 470.5 L610.5 487 L616.5 492.5 L622.5 500.75 L628.5 506.5 L634.5 505.5 L640.5 510.5 L646.5 510 L652.5 509 L658.5 502.25 L664.5 497 L670.5 494.75 L676.5 490.25 L682.5 487.75" fill="none" stroke="#2196f3" stroke-width="1" stroke-linejoin="round"/>
<path d="M-8 518.5 L0 519.75 L16 522.25 L37 525.6 L62 526.9 L87 529 L96 528.6 L102.5 528 L115 525 L127.5 521.9 L140 518.75 L152.5 515.6 L165 513.75 L177.5 512.5 L190 512.3 L205 513.1 L230 513.75 L255 515 L270 516.5 L282.5 518.5 L295 520 L307.5 521.5 L320 523.1 L332.5 524 L345 524 L357.5 523.1 L364.5 522 L370.5 520.75 L376.5 518.5 L382.5 515.5 L388.5 512.5 L394.5 510.25 L400.5 508 L406.5 505.75 L412.5 503.5 L418.5 500.5 L424.5 497.5 L430.5 494.8 L436.5 492.7 L442.5 490.75 L448.5 489.25 L454.5 488.2 L460.5 488 L466.5 488 L472.5 488.2 L478.5 488 L484.5 488.25 L490.5 488.7 L496.5 488.25 L502.5 487.5 L508.5 486.75 L514.5 486 L520.5 485.25 L526.5 483.75 L532.5 480.75 L538.5 476.25 L544.5 471.5 L550.5 460.3 L556.5 448.75 L562.5 439 L568.5 431.5 L574.5 427.5 L580.5 427.5 L586.5 430.75 L592.5 435.25 L598.5 440.5 L604.5 446.5 L610.5 454 L616.5 461.5 L622.5 469.5 L628.5 476.6 L634.5 482.75 L640.5 488 L646.5 492.5 L652.5 495.5 L658.5 497 L664.5 497.3 L670.5 496.7 L676.5 495.5 L682.5 494.5" fill="none" stroke="#ff3377" stroke-width="2" stroke-linejoin="round" stroke-linecap="round"/>
<path d="M746 164h42a2 2 0 0 1 2 2v13a2 2 0 0 1 -2 2h-42z" fill="#089981"/>
<circle cx="249" cy="16" r="9" fill="#089981" fill-opacity="0.16"/><circle cx="249" cy="16" r="4" fill="#089981"/>
<circle cx="23.5" cy="549.7" r="16.5" fill="#fff" stroke="#ebecef" stroke-width="1"/>
<g transform="translate(12.9 542.6) scale(0.6)" fill="#131722"><path d="M14 22H7V11H0V4h14v18zM28 22h-8l7.5-18h8L28 22z"/><circle cx="20" cy="8" r="4"/></g>
<g stroke="#131722" stroke-width="1.2" fill="none">
<circle cx="773.5" cy="586.4" r="4.9"/>
<line x1="778.90" y1="586.40" x2="781.10" y2="586.40"/>
<line x1="777.32" y1="590.22" x2="778.87" y2="591.77"/>
<line x1="773.50" y1="591.80" x2="773.50" y2="594.00"/>
<line x1="769.68" y1="590.22" x2="768.13" y2="591.77"/>
<line x1="768.10" y1="586.40" x2="765.90" y2="586.40"/>
<line x1="769.68" y1="582.58" x2="768.13" y2="581.03"/>
<line x1="773.50" y1="581.00" x2="773.50" y2="578.80"/>
<line x1="777.32" y1="582.58" x2="778.87" y2="581.03"/>
</g>
</svg>
<div id="txt"><span class="t" style="left:8.72px;top:9.65px;font-size:14px;line-height:14px;height:14px;color:#131722;font-weight:400;letter-spacing:1.15px;-webkit-text-stroke-width:0.08px;">Crude</span><span class="t" style="left:57.14px;top:9.65px;font-size:14px;line-height:14px;height:14px;color:#131722;font-weight:400;letter-spacing:1.5px;-webkit-text-stroke-width:0.08px;">Oil</span><span class="t" style="left:82.71px;top:9.65px;font-size:14px;line-height:14px;height:14px;color:#131722;font-weight:400;letter-spacing:1.0px;-webkit-text-stroke-width:0.08px;">Futures</span><span class="t" style="left:139.03px;top:9.65px;font-size:14px;line-height:14px;height:14px;color:#131722;font-weight:400;letter-spacing:0.0px;-webkit-text-stroke-width:0.08px;">·</span><span class="t" style="left:147.68px;top:9.65px;font-size:14px;line-height:14px;height:14px;color:#131722;font-weight:400;letter-spacing:0.95px;-webkit-text-stroke-width:0.08px;">4h</span><span class="t" style="left:168.18px;top:9.65px;font-size:14px;line-height:14px;height:14px;color:#131722;font-weight:400;letter-spacing:0.0px;-webkit-text-stroke-width:0.08px;">·</span><span class="t" style="left:177.06px;top:9.65px;font-size:14px;line-height:14px;height:14px;color:#131722;font-weight:400;letter-spacing:-0.45px;-webkit-text-stroke-width:0.08px;">NYMEX</span><span class="t" style="left:273.44px;top:10.20px;font-size:13px;line-height:13px;height:13px;color:#131722;font-weight:400;letter-spacing:0.0px;-webkit-text-stroke-width:0.18px;">O</span><span class="t" style="left:283.39px;top:10.20px;font-size:13px;line-height:13px;height:13px;color:#089981;font-weight:400;letter-spacing:0.3px;-webkit-text-stroke-width:0.18px;">94.80</span><span class="t" style="left:322.60px;top:10.20px;font-size:13px;line-height:13px;height:13px;color:#131722;font-weight:400;letter-spacing:0.0px;-webkit-text-stroke-width:0.18px;">H</span><span class="t" style="left:331.99px;top:10.20px;font-size:13px;line-height:13px;height:13px;color:#089981;font-weight:400;letter-spacing:0.25px;-webkit-text-stroke-width:0.18px;">97.19</span><span class="t" style="left:371.60px;top:10.20px;font-size:13px;line-height:13px;height:13px;color:#131722;font-weight:400;letter-spacing:0.0px;-webkit-text-stroke-width:0.18px;">L</span><span class="t" style="left:379.39px;top:10.20px;font-size:13px;line-height:13px;height:13px;color:#089981;font-weight:400;letter-spacing:0.25px;-webkit-text-stroke-width:0.18px;">93.03</span><span class="t" style="left:418.80px;top:10.20px;font-size:13px;line-height:13px;height:13px;color:#131722;font-weight:400;letter-spacing:0.0px;-webkit-text-stroke-width:0.18px;">C</span><span class="t" style="left:428.39px;top:10.20px;font-size:13px;line-height:13px;height:13px;color:#089981;font-weight:400;letter-spacing:0.05px;-webkit-text-stroke-width:0.18px;">94.80</span><span class="t" style="left:467.44px;top:10.20px;font-size:13px;line-height:13px;height:13px;color:#089981;font-weight:400;letter-spacing:-0.25px;-webkit-text-stroke-width:0.18px;">+0.02</span><span class="t" style="left:504.24px;top:10.20px;font-size:13px;line-height:13px;height:13px;color:#089981;font-weight:400;letter-spacing:-0.4px;-webkit-text-stroke-width:0.18px;">(+0.02%)</span><span class="t" style="left:9.26px;top:34.84px;font-size:12px;line-height:12px;height:12px;color:#131722;font-weight:400;letter-spacing:0.5px;-webkit-text-stroke-width:0.25px;">Volume</span><span class="t" style="left:55.26px;top:34.84px;font-size:12px;line-height:12px;height:12px;color:#5d606b;font-weight:400;letter-spacing:-1.35px;-webkit-text-stroke-width:0.25px;">SMA</span><span class="t" style="left:81.93px;top:34.84px;font-size:12px;line-height:12px;height:12px;color:#5d606b;font-weight:400;letter-spacing:0.0px;-webkit-text-stroke-width:0.25px;">9</span><span class="t" style="left:102.75px;top:34.84px;font-size:12px;line-height:12px;height:12px;color:#22ab94;font-weight:400;letter-spacing:0.65px;-webkit-text-stroke-width:0.25px;">116.387K</span><span class="t" style="left:8.30px;top:392.64px;font-size:12px;line-height:12px;height:12px;color:#131722;font-weight:400;letter-spacing:-0.7px;-webkit-text-stroke-width:0.25px;">MACD</span><span class="t" style="left:46.00px;top:392.64px;font-size:12px;line-height:12px;height:12px;color:#5d606b;font-weight:400;letter-spacing:-0.5px;-webkit-text-stroke-width:0.25px;">12</span><span class="t" style="left:64.44px;top:392.64px;font-size:12px;line-height:12px;height:12px;color:#5d606b;font-weight:400;letter-spacing:-0.15px;-webkit-text-stroke-width:0.25px;">26</span><span class="t" style="left:81.74px;top:392.64px;font-size:12px;line-height:12px;height:12px;color:#5d606b;font-weight:400;letter-spacing:-0.1px;-webkit-text-stroke-width:0.25px;">close</span><span class="t" style="left:114.68px;top:392.64px;font-size:12px;line-height:12px;height:12px;color:#5d606b;font-weight:400;letter-spacing:0.0px;-webkit-text-stroke-width:0.25px;">9</span><span class="t" style="left:135.84px;top:392.64px;font-size:12px;line-height:12px;height:12px;color:#22ab94;font-weight:400;letter-spacing:0.7px;-webkit-text-stroke-width:0.25px;">0.42</span><span class="t" style="left:167.94px;top:392.64px;font-size:12px;line-height:12px;height:12px;color:#2196f3;font-weight:400;letter-spacing:0.7px;-webkit-text-stroke-width:0.25px;">2.27</span><span class="t" style="left:200.50px;top:392.64px;font-size:12px;line-height:12px;height:12px;color:#ff3377;font-weight:400;letter-spacing:0.55px;-webkit-text-stroke-width:0.25px;">1.85</span><span class="t" style="left:756.00px;top:29.64px;font-size:12px;line-height:12px;height:12px;color:#131722;font-weight:400;letter-spacing:-0.4px;-webkit-text-stroke-width:0.25px;">120.00</span><span class="t" style="left:756.00px;top:83.64px;font-size:12px;line-height:12px;height:12px;color:#131722;font-weight:400;letter-spacing:-0.4px;-webkit-text-stroke-width:0.25px;">110.00</span><span class="t" style="left:756.00px;top:137.64px;font-size:12px;line-height:12px;height:12px;color:#131722;font-weight:400;letter-spacing:-0.4px;-webkit-text-stroke-width:0.25px;">100.00</span><span class="t" style="left:756.00px;top:191.64px;font-size:12px;line-height:12px;height:12px;color:#131722;font-weight:400;letter-spacing:-0.4px;-webkit-text-stroke-width:0.25px;">90.00</span><span class="t" style="left:756.00px;top:245.64px;font-size:12px;line-height:12px;height:12px;color:#131722;font-weight:400;letter-spacing:-0.4px;-webkit-text-stroke-width:0.25px;">80.00</span><span class="t" style="left:756.00px;top:299.64px;font-size:12px;line-height:12px;height:12px;color:#131722;font-weight:400;letter-spacing:-0.4px;-webkit-text-stroke-width:0.25px;">70.00</span><span class="t" style="left:756.00px;top:353.64px;font-size:12px;line-height:12px;height:12px;color:#131722;font-weight:400;letter-spacing:-0.4px;-webkit-text-stroke-width:0.25px;">60.00</span><span class="t" style="left:756.00px;top:390.64px;font-size:12px;line-height:12px;height:12px;color:#131722;font-weight:400;letter-spacing:-0.4px;-webkit-text-stroke-width:0.25px;">8.00</span><span class="t" style="left:756.00px;top:422.64px;font-size:12px;line-height:12px;height:12px;color:#131722;font-weight:400;letter-spacing:-0.4px;-webkit-text-stroke-width:0.25px;">6.00</span><span class="t" style="left:756.00px;top:454.14px;font-size:12px;line-height:12px;height:12px;color:#131722;font-weight:400;letter-spacing:-0.4px;-webkit-text-stroke-width:0.25px;">4.00</span><span class="t" style="left:756.00px;top:485.64px;font-size:12px;line-height:12px;height:12px;color:#131722;font-weight:400;letter-spacing:-0.4px;-webkit-text-stroke-width:0.25px;">2.00</span><span class="t" style="left:756.00px;top:517.64px;font-size:12px;line-height:12px;height:12px;color:#131722;font-weight:400;letter-spacing:-0.4px;-webkit-text-stroke-width:0.25px;">0.00</span><span class="t" style="left:756.00px;top:549.64px;font-size:12px;line-height:12px;height:12px;color:#131722;font-weight:400;letter-spacing:-0.4px;-webkit-text-stroke-width:0.25px;">−2.00</span><span class="t" style="left:756.00px;top:166.64px;font-size:12px;line-height:12px;height:12px;color:#fff;font-weight:400;letter-spacing:-0.55px;-webkit-text-stroke-width:0.25px;">94.80</span><span class="t c" style="left:-13.5px;width:60px;top:579.84px;font-size:12px;line-height:12px;height:12px;font-weight:400;">13</span><span class="t c" style="left:94.5px;width:60px;top:579.84px;font-size:12px;line-height:12px;height:12px;font-weight:400;">19</span><span class="t c" style="left:202.5px;width:60px;top:579.84px;font-size:12px;line-height:12px;height:12px;font-weight:400;">24</span><span class="t c" style="left:340.5px;width:60px;top:579.84px;font-size:12px;line-height:12px;height:12px;font-weight:400;-webkit-text-stroke:0.55px currentColor;">Mar</span><span class="t c" style="left:454.5px;width:60px;top:579.84px;font-size:12px;line-height:12px;height:12px;font-weight:400;">5</span><span class="t c" style="left:562.5px;width:60px;top:579.84px;font-size:12px;line-height:12px;height:12px;font-weight:400;">10</span><span class="t c" style="left:670.5px;width:60px;top:579.84px;font-size:12px;line-height:12px;height:12px;font-weight:400;">13</span></div>
</body></html>
